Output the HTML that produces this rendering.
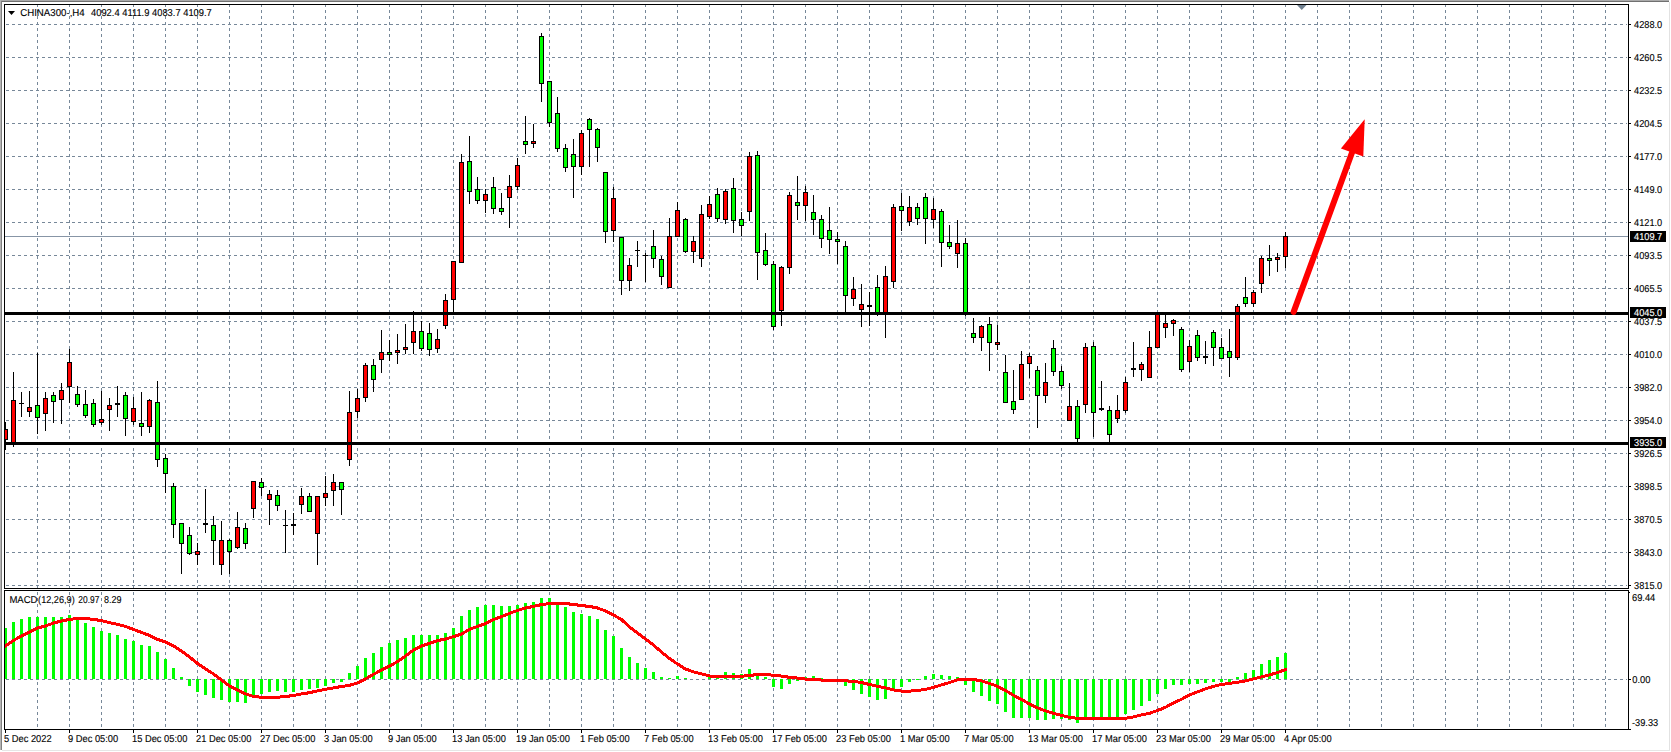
<!DOCTYPE html>
<html><head><meta charset="utf-8"><title>CHINA300 H4</title>
<style>html,body{margin:0;padding:0;background:#fff;overflow:hidden}svg{display:block}</style></head>
<body>
<svg width="1671" height="752" viewBox="0 0 1671 752" shape-rendering="crispEdges" text-rendering="geometricPrecision" font-family="'Liberation Sans', sans-serif" font-size="10px" fill="#000">
<rect x="0" y="0" width="1671" height="752" fill="#fff"/>
<rect x="0" y="0" width="1669" height="1" fill="#aaaaaa"/>
<rect x="0" y="1" width="1669" height="1" fill="#707070"/>
<rect x="0" y="0" width="1" height="750" fill="#b4b4b4"/>
<rect x="1" y="1" width="1" height="749" fill="#808080"/>
<rect x="1669" y="2" width="1" height="749" fill="#e2e2e2"/>
<rect x="2" y="750" width="1668" height="1" fill="#e6e6e6"/>
<g stroke="#778899" stroke-width="1" stroke-dasharray="3 3" fill="none">
<line x1="37.5" y1="4" x2="37.5" y2="588"/>
<line x1="37.5" y1="586" x2="37.5" y2="729"/>
<line x1="69.5" y1="4" x2="69.5" y2="588"/>
<line x1="69.5" y1="586" x2="69.5" y2="729"/>
<line x1="101.5" y1="4" x2="101.5" y2="588"/>
<line x1="101.5" y1="586" x2="101.5" y2="729"/>
<line x1="133.5" y1="4" x2="133.5" y2="588"/>
<line x1="133.5" y1="586" x2="133.5" y2="729"/>
<line x1="165.5" y1="4" x2="165.5" y2="588"/>
<line x1="165.5" y1="586" x2="165.5" y2="729"/>
<line x1="197.5" y1="4" x2="197.5" y2="588"/>
<line x1="197.5" y1="586" x2="197.5" y2="729"/>
<line x1="229.5" y1="4" x2="229.5" y2="588"/>
<line x1="229.5" y1="586" x2="229.5" y2="729"/>
<line x1="261.5" y1="4" x2="261.5" y2="588"/>
<line x1="261.5" y1="586" x2="261.5" y2="729"/>
<line x1="293.5" y1="4" x2="293.5" y2="588"/>
<line x1="293.5" y1="586" x2="293.5" y2="729"/>
<line x1="325.5" y1="4" x2="325.5" y2="588"/>
<line x1="325.5" y1="586" x2="325.5" y2="729"/>
<line x1="357.5" y1="4" x2="357.5" y2="588"/>
<line x1="357.5" y1="586" x2="357.5" y2="729"/>
<line x1="389.5" y1="4" x2="389.5" y2="588"/>
<line x1="389.5" y1="586" x2="389.5" y2="729"/>
<line x1="421.5" y1="4" x2="421.5" y2="588"/>
<line x1="421.5" y1="586" x2="421.5" y2="729"/>
<line x1="453.5" y1="4" x2="453.5" y2="588"/>
<line x1="453.5" y1="586" x2="453.5" y2="729"/>
<line x1="485.5" y1="4" x2="485.5" y2="588"/>
<line x1="485.5" y1="586" x2="485.5" y2="729"/>
<line x1="517.5" y1="4" x2="517.5" y2="588"/>
<line x1="517.5" y1="586" x2="517.5" y2="729"/>
<line x1="549.5" y1="4" x2="549.5" y2="588"/>
<line x1="549.5" y1="586" x2="549.5" y2="729"/>
<line x1="581.5" y1="4" x2="581.5" y2="588"/>
<line x1="581.5" y1="586" x2="581.5" y2="729"/>
<line x1="613.5" y1="4" x2="613.5" y2="588"/>
<line x1="613.5" y1="586" x2="613.5" y2="729"/>
<line x1="645.5" y1="4" x2="645.5" y2="588"/>
<line x1="645.5" y1="586" x2="645.5" y2="729"/>
<line x1="677.5" y1="4" x2="677.5" y2="588"/>
<line x1="677.5" y1="586" x2="677.5" y2="729"/>
<line x1="709.5" y1="4" x2="709.5" y2="588"/>
<line x1="709.5" y1="586" x2="709.5" y2="729"/>
<line x1="741.5" y1="4" x2="741.5" y2="588"/>
<line x1="741.5" y1="586" x2="741.5" y2="729"/>
<line x1="773.5" y1="4" x2="773.5" y2="588"/>
<line x1="773.5" y1="586" x2="773.5" y2="729"/>
<line x1="805.5" y1="4" x2="805.5" y2="588"/>
<line x1="805.5" y1="586" x2="805.5" y2="729"/>
<line x1="837.5" y1="4" x2="837.5" y2="588"/>
<line x1="837.5" y1="586" x2="837.5" y2="729"/>
<line x1="869.5" y1="4" x2="869.5" y2="588"/>
<line x1="869.5" y1="586" x2="869.5" y2="729"/>
<line x1="901.5" y1="4" x2="901.5" y2="588"/>
<line x1="901.5" y1="586" x2="901.5" y2="729"/>
<line x1="933.5" y1="4" x2="933.5" y2="588"/>
<line x1="933.5" y1="586" x2="933.5" y2="729"/>
<line x1="965.5" y1="4" x2="965.5" y2="588"/>
<line x1="965.5" y1="586" x2="965.5" y2="729"/>
<line x1="997.5" y1="4" x2="997.5" y2="588"/>
<line x1="997.5" y1="586" x2="997.5" y2="729"/>
<line x1="1029.5" y1="4" x2="1029.5" y2="588"/>
<line x1="1029.5" y1="586" x2="1029.5" y2="729"/>
<line x1="1061.5" y1="4" x2="1061.5" y2="588"/>
<line x1="1061.5" y1="586" x2="1061.5" y2="729"/>
<line x1="1093.5" y1="4" x2="1093.5" y2="588"/>
<line x1="1093.5" y1="586" x2="1093.5" y2="729"/>
<line x1="1125.5" y1="4" x2="1125.5" y2="588"/>
<line x1="1125.5" y1="586" x2="1125.5" y2="729"/>
<line x1="1157.5" y1="4" x2="1157.5" y2="588"/>
<line x1="1157.5" y1="586" x2="1157.5" y2="729"/>
<line x1="1189.5" y1="4" x2="1189.5" y2="588"/>
<line x1="1189.5" y1="586" x2="1189.5" y2="729"/>
<line x1="1221.5" y1="4" x2="1221.5" y2="588"/>
<line x1="1221.5" y1="586" x2="1221.5" y2="729"/>
<line x1="1253.5" y1="4" x2="1253.5" y2="588"/>
<line x1="1253.5" y1="586" x2="1253.5" y2="729"/>
<line x1="1285.5" y1="4" x2="1285.5" y2="588"/>
<line x1="1285.5" y1="586" x2="1285.5" y2="729"/>
<line x1="1317.5" y1="4" x2="1317.5" y2="588"/>
<line x1="1317.5" y1="586" x2="1317.5" y2="729"/>
<line x1="1349.5" y1="4" x2="1349.5" y2="588"/>
<line x1="1349.5" y1="586" x2="1349.5" y2="729"/>
<line x1="1381.5" y1="4" x2="1381.5" y2="588"/>
<line x1="1381.5" y1="586" x2="1381.5" y2="729"/>
<line x1="1413.5" y1="4" x2="1413.5" y2="588"/>
<line x1="1413.5" y1="586" x2="1413.5" y2="729"/>
<line x1="1445.5" y1="4" x2="1445.5" y2="588"/>
<line x1="1445.5" y1="586" x2="1445.5" y2="729"/>
<line x1="1477.5" y1="4" x2="1477.5" y2="588"/>
<line x1="1477.5" y1="586" x2="1477.5" y2="729"/>
<line x1="1509.5" y1="4" x2="1509.5" y2="588"/>
<line x1="1509.5" y1="586" x2="1509.5" y2="729"/>
<line x1="1541.5" y1="4" x2="1541.5" y2="588"/>
<line x1="1541.5" y1="586" x2="1541.5" y2="729"/>
<line x1="1573.5" y1="4" x2="1573.5" y2="588"/>
<line x1="1573.5" y1="586" x2="1573.5" y2="729"/>
<line x1="1605.5" y1="4" x2="1605.5" y2="588"/>
<line x1="1605.5" y1="586" x2="1605.5" y2="729"/>
<line x1="6" y1="24.5" x2="1627" y2="24.5"/>
<line x1="6" y1="57.5" x2="1627" y2="57.5"/>
<line x1="6" y1="90.5" x2="1627" y2="90.5"/>
<line x1="6" y1="123.5" x2="1627" y2="123.5"/>
<line x1="6" y1="156.5" x2="1627" y2="156.5"/>
<line x1="6" y1="189.5" x2="1627" y2="189.5"/>
<line x1="6" y1="222.5" x2="1627" y2="222.5"/>
<line x1="6" y1="255.5" x2="1627" y2="255.5"/>
<line x1="6" y1="288.5" x2="1627" y2="288.5"/>
<line x1="6" y1="321.5" x2="1627" y2="321.5"/>
<line x1="6" y1="354.5" x2="1627" y2="354.5"/>
<line x1="6" y1="387.5" x2="1627" y2="387.5"/>
<line x1="6" y1="420.5" x2="1627" y2="420.5"/>
<line x1="6" y1="453.5" x2="1627" y2="453.5"/>
<line x1="6" y1="486.5" x2="1627" y2="486.5"/>
<line x1="6" y1="519.5" x2="1627" y2="519.5"/>
<line x1="6" y1="552.5" x2="1627" y2="552.5"/>
<line x1="6" y1="585.5" x2="1627" y2="585.5"/>
<line x1="6" y1="679.5" x2="1627" y2="679.5"/>
</g>
<rect x="5" y="236" width="1623" height="1" fill="#8795a6"/>
<clipPath id="cc"><rect x="5" y="5" width="1623" height="583"/></clipPath><g clip-path="url(#cc)">
<rect x="5" y="422" width="1" height="28" fill="#000"/>
<rect x="3" y="429" width="5" height="11" fill="#000"/>
<rect x="4" y="430" width="3" height="9" fill="#ff0000"/>
<rect x="13" y="372" width="1" height="75" fill="#000"/>
<rect x="11" y="400" width="5" height="45" fill="#000"/>
<rect x="12" y="401" width="3" height="43" fill="#ff0000"/>
<rect x="21" y="392" width="1" height="25" fill="#000"/>
<rect x="19" y="403" width="5" height="1" fill="#000"/>
<rect x="29" y="391" width="1" height="26" fill="#000"/>
<rect x="27" y="407" width="5" height="5" fill="#000"/>
<rect x="28" y="408" width="3" height="3" fill="#ff0000"/>
<rect x="37" y="353" width="1" height="81" fill="#000"/>
<rect x="35" y="405" width="5" height="13" fill="#000"/>
<rect x="36" y="406" width="3" height="11" fill="#00ff00"/>
<rect x="45" y="392" width="1" height="39" fill="#000"/>
<rect x="43" y="398" width="5" height="16" fill="#000"/>
<rect x="44" y="399" width="3" height="14" fill="#ff0000"/>
<rect x="53" y="392" width="1" height="31" fill="#000"/>
<rect x="51" y="395" width="5" height="7" fill="#000"/>
<rect x="52" y="396" width="3" height="5" fill="#00ff00"/>
<rect x="61" y="383" width="1" height="41" fill="#000"/>
<rect x="59" y="390" width="5" height="10" fill="#000"/>
<rect x="60" y="391" width="3" height="8" fill="#ff0000"/>
<rect x="69" y="349" width="1" height="54" fill="#000"/>
<rect x="67" y="362" width="5" height="25" fill="#000"/>
<rect x="68" y="363" width="3" height="23" fill="#ff0000"/>
<rect x="77" y="386" width="1" height="21" fill="#000"/>
<rect x="75" y="394" width="5" height="11" fill="#000"/>
<rect x="76" y="395" width="3" height="9" fill="#00ff00"/>
<rect x="85" y="390" width="1" height="28" fill="#000"/>
<rect x="83" y="404" width="5" height="12" fill="#000"/>
<rect x="84" y="405" width="3" height="10" fill="#00ff00"/>
<rect x="93" y="399" width="1" height="28" fill="#000"/>
<rect x="91" y="403" width="5" height="22" fill="#000"/>
<rect x="92" y="404" width="3" height="20" fill="#00ff00"/>
<rect x="101" y="391" width="1" height="34" fill="#000"/>
<rect x="99" y="419" width="5" height="4" fill="#000"/>
<rect x="100" y="420" width="3" height="2" fill="#ff0000"/>
<rect x="109" y="398" width="1" height="33" fill="#000"/>
<rect x="107" y="405" width="5" height="5" fill="#000"/>
<rect x="108" y="406" width="3" height="3" fill="#ff0000"/>
<rect x="117" y="386" width="1" height="31" fill="#000"/>
<rect x="115" y="403" width="5" height="2" fill="#000"/>
<rect x="125" y="392" width="1" height="44" fill="#000"/>
<rect x="123" y="395" width="5" height="24" fill="#000"/>
<rect x="124" y="396" width="3" height="22" fill="#00ff00"/>
<rect x="133" y="397" width="1" height="28" fill="#000"/>
<rect x="131" y="408" width="5" height="14" fill="#000"/>
<rect x="132" y="409" width="3" height="12" fill="#ff0000"/>
<rect x="141" y="392" width="1" height="44" fill="#000"/>
<rect x="139" y="423" width="5" height="4" fill="#000"/>
<rect x="140" y="424" width="3" height="2" fill="#00ff00"/>
<rect x="149" y="399" width="1" height="34" fill="#000"/>
<rect x="147" y="400" width="5" height="27" fill="#000"/>
<rect x="148" y="401" width="3" height="25" fill="#ff0000"/>
<rect x="157" y="381" width="1" height="86" fill="#000"/>
<rect x="155" y="402" width="5" height="58" fill="#000"/>
<rect x="156" y="403" width="3" height="56" fill="#00ff00"/>
<rect x="165" y="454" width="1" height="39" fill="#000"/>
<rect x="163" y="458" width="5" height="16" fill="#000"/>
<rect x="164" y="459" width="3" height="14" fill="#00ff00"/>
<rect x="173" y="483" width="1" height="55" fill="#000"/>
<rect x="171" y="486" width="5" height="39" fill="#000"/>
<rect x="172" y="487" width="3" height="37" fill="#00ff00"/>
<rect x="181" y="523" width="1" height="51" fill="#000"/>
<rect x="179" y="523" width="5" height="21" fill="#000"/>
<rect x="180" y="524" width="3" height="19" fill="#00ff00"/>
<rect x="189" y="527" width="1" height="28" fill="#000"/>
<rect x="187" y="535" width="5" height="19" fill="#000"/>
<rect x="188" y="536" width="3" height="17" fill="#00ff00"/>
<rect x="197" y="543" width="1" height="22" fill="#000"/>
<rect x="195" y="551" width="5" height="4" fill="#000"/>
<rect x="196" y="552" width="3" height="2" fill="#ff0000"/>
<rect x="205" y="489" width="1" height="44" fill="#000"/>
<rect x="203" y="523" width="5" height="2" fill="#000"/>
<rect x="213" y="516" width="1" height="49" fill="#000"/>
<rect x="211" y="525" width="5" height="16" fill="#000"/>
<rect x="212" y="526" width="3" height="14" fill="#00ff00"/>
<rect x="221" y="521" width="1" height="54" fill="#000"/>
<rect x="219" y="540" width="5" height="25" fill="#000"/>
<rect x="220" y="541" width="3" height="23" fill="#ff0000"/>
<rect x="229" y="539" width="1" height="35" fill="#000"/>
<rect x="227" y="540" width="5" height="12" fill="#000"/>
<rect x="228" y="541" width="3" height="10" fill="#00ff00"/>
<rect x="237" y="512" width="1" height="37" fill="#000"/>
<rect x="235" y="527" width="5" height="21" fill="#000"/>
<rect x="236" y="528" width="3" height="19" fill="#ff0000"/>
<rect x="245" y="523" width="1" height="26" fill="#000"/>
<rect x="243" y="528" width="5" height="16" fill="#000"/>
<rect x="244" y="529" width="3" height="14" fill="#00ff00"/>
<rect x="253" y="481" width="1" height="37" fill="#000"/>
<rect x="251" y="481" width="5" height="28" fill="#000"/>
<rect x="252" y="482" width="3" height="26" fill="#ff0000"/>
<rect x="261" y="478" width="1" height="18" fill="#000"/>
<rect x="259" y="482" width="5" height="6" fill="#000"/>
<rect x="260" y="483" width="3" height="4" fill="#00ff00"/>
<rect x="269" y="490" width="1" height="35" fill="#000"/>
<rect x="267" y="494" width="5" height="6" fill="#000"/>
<rect x="268" y="495" width="3" height="4" fill="#ff0000"/>
<rect x="277" y="490" width="1" height="21" fill="#000"/>
<rect x="275" y="495" width="5" height="11" fill="#000"/>
<rect x="276" y="496" width="3" height="9" fill="#00ff00"/>
<rect x="285" y="510" width="1" height="43" fill="#000"/>
<rect x="283" y="525" width="5" height="1" fill="#000"/>
<rect x="293" y="513" width="1" height="22" fill="#000"/>
<rect x="291" y="524" width="5" height="2" fill="#000"/>
<rect x="301" y="488" width="1" height="26" fill="#000"/>
<rect x="299" y="496" width="5" height="9" fill="#000"/>
<rect x="300" y="497" width="3" height="7" fill="#ff0000"/>
<rect x="309" y="493" width="1" height="19" fill="#000"/>
<rect x="307" y="496" width="5" height="16" fill="#000"/>
<rect x="308" y="497" width="3" height="14" fill="#00ff00"/>
<rect x="317" y="496" width="1" height="69" fill="#000"/>
<rect x="315" y="496" width="5" height="38" fill="#000"/>
<rect x="316" y="497" width="3" height="36" fill="#ff0000"/>
<rect x="325" y="476" width="1" height="30" fill="#000"/>
<rect x="323" y="493" width="5" height="5" fill="#000"/>
<rect x="324" y="494" width="3" height="3" fill="#ff0000"/>
<rect x="333" y="474" width="1" height="32" fill="#000"/>
<rect x="331" y="482" width="5" height="9" fill="#000"/>
<rect x="332" y="483" width="3" height="7" fill="#ff0000"/>
<rect x="341" y="482" width="1" height="33" fill="#000"/>
<rect x="339" y="482" width="5" height="8" fill="#000"/>
<rect x="340" y="483" width="3" height="6" fill="#00ff00"/>
<rect x="349" y="391" width="1" height="75" fill="#000"/>
<rect x="347" y="412" width="5" height="48" fill="#000"/>
<rect x="348" y="413" width="3" height="46" fill="#ff0000"/>
<rect x="357" y="389" width="1" height="29" fill="#000"/>
<rect x="355" y="398" width="5" height="14" fill="#000"/>
<rect x="356" y="399" width="3" height="12" fill="#ff0000"/>
<rect x="365" y="363" width="1" height="39" fill="#000"/>
<rect x="363" y="365" width="5" height="33" fill="#000"/>
<rect x="364" y="366" width="3" height="31" fill="#ff0000"/>
<rect x="373" y="359" width="1" height="33" fill="#000"/>
<rect x="371" y="365" width="5" height="15" fill="#000"/>
<rect x="372" y="366" width="3" height="13" fill="#00ff00"/>
<rect x="381" y="330" width="1" height="43" fill="#000"/>
<rect x="379" y="352" width="5" height="8" fill="#000"/>
<rect x="380" y="353" width="3" height="6" fill="#ff0000"/>
<rect x="389" y="340" width="1" height="21" fill="#000"/>
<rect x="387" y="352" width="5" height="3" fill="#000"/>
<rect x="388" y="353" width="3" height="1" fill="#00ff00"/>
<rect x="397" y="334" width="1" height="30" fill="#000"/>
<rect x="395" y="350" width="5" height="3" fill="#000"/>
<rect x="396" y="351" width="3" height="1" fill="#ff0000"/>
<rect x="405" y="324" width="1" height="30" fill="#000"/>
<rect x="403" y="347" width="5" height="3" fill="#000"/>
<rect x="404" y="348" width="3" height="1" fill="#ff0000"/>
<rect x="413" y="311" width="1" height="43" fill="#000"/>
<rect x="411" y="331" width="5" height="12" fill="#000"/>
<rect x="412" y="332" width="3" height="10" fill="#ff0000"/>
<rect x="421" y="321" width="1" height="30" fill="#000"/>
<rect x="419" y="331" width="5" height="18" fill="#000"/>
<rect x="420" y="332" width="3" height="16" fill="#00ff00"/>
<rect x="429" y="323" width="1" height="33" fill="#000"/>
<rect x="427" y="333" width="5" height="17" fill="#000"/>
<rect x="428" y="334" width="3" height="15" fill="#00ff00"/>
<rect x="437" y="329" width="1" height="24" fill="#000"/>
<rect x="435" y="339" width="5" height="10" fill="#000"/>
<rect x="436" y="340" width="3" height="8" fill="#ff0000"/>
<rect x="445" y="294" width="1" height="35" fill="#000"/>
<rect x="443" y="300" width="5" height="26" fill="#000"/>
<rect x="444" y="301" width="3" height="24" fill="#ff0000"/>
<rect x="453" y="261" width="1" height="52" fill="#000"/>
<rect x="451" y="261" width="5" height="39" fill="#000"/>
<rect x="452" y="262" width="3" height="37" fill="#ff0000"/>
<rect x="461" y="154" width="1" height="108" fill="#000"/>
<rect x="459" y="162" width="5" height="101" fill="#000"/>
<rect x="460" y="163" width="3" height="99" fill="#ff0000"/>
<rect x="469" y="136" width="1" height="68" fill="#000"/>
<rect x="467" y="161" width="5" height="31" fill="#000"/>
<rect x="468" y="162" width="3" height="29" fill="#00ff00"/>
<rect x="477" y="177" width="1" height="27" fill="#000"/>
<rect x="475" y="189" width="5" height="12" fill="#000"/>
<rect x="476" y="190" width="3" height="10" fill="#00ff00"/>
<rect x="485" y="189" width="1" height="24" fill="#000"/>
<rect x="483" y="194" width="5" height="7" fill="#000"/>
<rect x="484" y="195" width="3" height="5" fill="#ff0000"/>
<rect x="493" y="177" width="1" height="37" fill="#000"/>
<rect x="491" y="187" width="5" height="22" fill="#000"/>
<rect x="492" y="188" width="3" height="20" fill="#00ff00"/>
<rect x="501" y="193" width="1" height="22" fill="#000"/>
<rect x="499" y="208" width="5" height="4" fill="#000"/>
<rect x="500" y="209" width="3" height="2" fill="#00ff00"/>
<rect x="509" y="175" width="1" height="53" fill="#000"/>
<rect x="507" y="186" width="5" height="12" fill="#000"/>
<rect x="508" y="187" width="3" height="10" fill="#ff0000"/>
<rect x="517" y="158" width="1" height="32" fill="#000"/>
<rect x="515" y="165" width="5" height="22" fill="#000"/>
<rect x="516" y="166" width="3" height="20" fill="#ff0000"/>
<rect x="525" y="116" width="1" height="38" fill="#000"/>
<rect x="523" y="141" width="5" height="4" fill="#000"/>
<rect x="524" y="142" width="3" height="2" fill="#00ff00"/>
<rect x="533" y="124" width="1" height="24" fill="#000"/>
<rect x="531" y="141" width="5" height="3" fill="#000"/>
<rect x="532" y="142" width="3" height="1" fill="#ff0000"/>
<rect x="541" y="33" width="1" height="69" fill="#000"/>
<rect x="539" y="36" width="5" height="48" fill="#000"/>
<rect x="540" y="37" width="3" height="46" fill="#00ff00"/>
<rect x="549" y="81" width="1" height="46" fill="#000"/>
<rect x="547" y="81" width="5" height="42" fill="#000"/>
<rect x="548" y="82" width="3" height="40" fill="#00ff00"/>
<rect x="557" y="97" width="1" height="55" fill="#000"/>
<rect x="555" y="113" width="5" height="36" fill="#000"/>
<rect x="556" y="114" width="3" height="34" fill="#00ff00"/>
<rect x="565" y="144" width="1" height="28" fill="#000"/>
<rect x="563" y="148" width="5" height="20" fill="#000"/>
<rect x="564" y="149" width="3" height="18" fill="#00ff00"/>
<rect x="573" y="139" width="1" height="59" fill="#000"/>
<rect x="571" y="154" width="5" height="13" fill="#000"/>
<rect x="572" y="155" width="3" height="11" fill="#00ff00"/>
<rect x="581" y="130" width="1" height="45" fill="#000"/>
<rect x="579" y="133" width="5" height="34" fill="#000"/>
<rect x="580" y="134" width="3" height="32" fill="#ff0000"/>
<rect x="589" y="118" width="1" height="49" fill="#000"/>
<rect x="587" y="119" width="5" height="11" fill="#000"/>
<rect x="588" y="120" width="3" height="9" fill="#00ff00"/>
<rect x="597" y="128" width="1" height="34" fill="#000"/>
<rect x="595" y="129" width="5" height="19" fill="#000"/>
<rect x="596" y="130" width="3" height="17" fill="#00ff00"/>
<rect x="605" y="172" width="1" height="71" fill="#000"/>
<rect x="603" y="172" width="5" height="60" fill="#000"/>
<rect x="604" y="173" width="3" height="58" fill="#00ff00"/>
<rect x="613" y="187" width="1" height="55" fill="#000"/>
<rect x="611" y="198" width="5" height="33" fill="#000"/>
<rect x="612" y="199" width="3" height="31" fill="#ff0000"/>
<rect x="621" y="237" width="1" height="58" fill="#000"/>
<rect x="619" y="237" width="5" height="44" fill="#000"/>
<rect x="620" y="238" width="3" height="42" fill="#00ff00"/>
<rect x="629" y="258" width="1" height="33" fill="#000"/>
<rect x="627" y="265" width="5" height="16" fill="#000"/>
<rect x="628" y="266" width="3" height="14" fill="#ff0000"/>
<rect x="637" y="241" width="1" height="26" fill="#000"/>
<rect x="635" y="250" width="5" height="1" fill="#000"/>
<rect x="645" y="253" width="1" height="29" fill="#000"/>
<rect x="643" y="255" width="5" height="1" fill="#000"/>
<rect x="653" y="230" width="1" height="38" fill="#000"/>
<rect x="651" y="246" width="5" height="13" fill="#000"/>
<rect x="652" y="247" width="3" height="11" fill="#00ff00"/>
<rect x="661" y="256" width="1" height="29" fill="#000"/>
<rect x="659" y="259" width="5" height="18" fill="#000"/>
<rect x="660" y="260" width="3" height="16" fill="#00ff00"/>
<rect x="669" y="218" width="1" height="70" fill="#000"/>
<rect x="667" y="236" width="5" height="52" fill="#000"/>
<rect x="668" y="237" width="3" height="50" fill="#ff0000"/>
<rect x="677" y="202" width="1" height="34" fill="#000"/>
<rect x="675" y="210" width="5" height="27" fill="#000"/>
<rect x="676" y="211" width="3" height="25" fill="#ff0000"/>
<rect x="685" y="218" width="1" height="35" fill="#000"/>
<rect x="683" y="219" width="5" height="33" fill="#000"/>
<rect x="684" y="220" width="3" height="31" fill="#00ff00"/>
<rect x="693" y="236" width="1" height="27" fill="#000"/>
<rect x="691" y="241" width="5" height="11" fill="#000"/>
<rect x="692" y="242" width="3" height="9" fill="#ff0000"/>
<rect x="701" y="205" width="1" height="62" fill="#000"/>
<rect x="699" y="214" width="5" height="45" fill="#000"/>
<rect x="700" y="215" width="3" height="43" fill="#ff0000"/>
<rect x="709" y="196" width="1" height="23" fill="#000"/>
<rect x="707" y="204" width="5" height="13" fill="#000"/>
<rect x="708" y="205" width="3" height="11" fill="#ff0000"/>
<rect x="717" y="188" width="1" height="34" fill="#000"/>
<rect x="715" y="194" width="5" height="25" fill="#000"/>
<rect x="716" y="195" width="3" height="23" fill="#00ff00"/>
<rect x="725" y="189" width="1" height="35" fill="#000"/>
<rect x="723" y="191" width="5" height="29" fill="#000"/>
<rect x="724" y="192" width="3" height="27" fill="#ff0000"/>
<rect x="733" y="178" width="1" height="55" fill="#000"/>
<rect x="731" y="188" width="5" height="33" fill="#000"/>
<rect x="732" y="189" width="3" height="31" fill="#00ff00"/>
<rect x="741" y="212" width="1" height="24" fill="#000"/>
<rect x="739" y="219" width="5" height="7" fill="#000"/>
<rect x="740" y="220" width="3" height="5" fill="#00ff00"/>
<rect x="749" y="152" width="1" height="69" fill="#000"/>
<rect x="747" y="156" width="5" height="56" fill="#000"/>
<rect x="748" y="157" width="3" height="54" fill="#ff0000"/>
<rect x="757" y="151" width="1" height="129" fill="#000"/>
<rect x="755" y="155" width="5" height="98" fill="#000"/>
<rect x="756" y="156" width="3" height="96" fill="#00ff00"/>
<rect x="765" y="233" width="1" height="33" fill="#000"/>
<rect x="763" y="250" width="5" height="15" fill="#000"/>
<rect x="764" y="251" width="3" height="13" fill="#00ff00"/>
<rect x="773" y="261" width="1" height="69" fill="#000"/>
<rect x="771" y="264" width="5" height="63" fill="#000"/>
<rect x="772" y="265" width="3" height="61" fill="#00ff00"/>
<rect x="781" y="266" width="1" height="60" fill="#000"/>
<rect x="779" y="267" width="5" height="44" fill="#000"/>
<rect x="780" y="268" width="3" height="42" fill="#ff0000"/>
<rect x="789" y="192" width="1" height="82" fill="#000"/>
<rect x="787" y="195" width="5" height="73" fill="#000"/>
<rect x="788" y="196" width="3" height="71" fill="#ff0000"/>
<rect x="797" y="176" width="1" height="44" fill="#000"/>
<rect x="795" y="202" width="5" height="4" fill="#000"/>
<rect x="796" y="203" width="3" height="2" fill="#00ff00"/>
<rect x="805" y="186" width="1" height="35" fill="#000"/>
<rect x="803" y="192" width="5" height="14" fill="#000"/>
<rect x="804" y="193" width="3" height="12" fill="#ff0000"/>
<rect x="813" y="195" width="1" height="40" fill="#000"/>
<rect x="811" y="212" width="5" height="8" fill="#000"/>
<rect x="812" y="213" width="3" height="6" fill="#00ff00"/>
<rect x="821" y="215" width="1" height="33" fill="#000"/>
<rect x="819" y="219" width="5" height="20" fill="#000"/>
<rect x="820" y="220" width="3" height="18" fill="#00ff00"/>
<rect x="829" y="207" width="1" height="47" fill="#000"/>
<rect x="827" y="230" width="5" height="10" fill="#000"/>
<rect x="828" y="231" width="3" height="8" fill="#00ff00"/>
<rect x="837" y="232" width="1" height="32" fill="#000"/>
<rect x="835" y="239" width="5" height="3" fill="#000"/>
<rect x="836" y="240" width="3" height="1" fill="#00ff00"/>
<rect x="845" y="241" width="1" height="72" fill="#000"/>
<rect x="843" y="246" width="5" height="50" fill="#000"/>
<rect x="844" y="247" width="3" height="48" fill="#00ff00"/>
<rect x="853" y="277" width="1" height="29" fill="#000"/>
<rect x="851" y="289" width="5" height="10" fill="#000"/>
<rect x="852" y="290" width="3" height="8" fill="#ff0000"/>
<rect x="861" y="284" width="1" height="43" fill="#000"/>
<rect x="859" y="304" width="5" height="6" fill="#000"/>
<rect x="860" y="305" width="3" height="4" fill="#ff0000"/>
<rect x="869" y="292" width="1" height="34" fill="#000"/>
<rect x="867" y="305" width="5" height="2" fill="#000"/>
<rect x="877" y="275" width="1" height="41" fill="#000"/>
<rect x="875" y="287" width="5" height="28" fill="#000"/>
<rect x="876" y="288" width="3" height="26" fill="#00ff00"/>
<rect x="885" y="266" width="1" height="72" fill="#000"/>
<rect x="883" y="276" width="5" height="39" fill="#000"/>
<rect x="884" y="277" width="3" height="37" fill="#ff0000"/>
<rect x="893" y="204" width="1" height="84" fill="#000"/>
<rect x="891" y="207" width="5" height="75" fill="#000"/>
<rect x="892" y="208" width="3" height="73" fill="#ff0000"/>
<rect x="901" y="193" width="1" height="38" fill="#000"/>
<rect x="899" y="206" width="5" height="5" fill="#000"/>
<rect x="900" y="207" width="3" height="3" fill="#00ff00"/>
<rect x="909" y="196" width="1" height="30" fill="#000"/>
<rect x="907" y="207" width="5" height="15" fill="#000"/>
<rect x="908" y="208" width="3" height="13" fill="#ff0000"/>
<rect x="917" y="203" width="1" height="22" fill="#000"/>
<rect x="915" y="207" width="5" height="12" fill="#000"/>
<rect x="916" y="208" width="3" height="10" fill="#00ff00"/>
<rect x="925" y="193" width="1" height="51" fill="#000"/>
<rect x="923" y="197" width="5" height="22" fill="#000"/>
<rect x="924" y="198" width="3" height="20" fill="#00ff00"/>
<rect x="933" y="198" width="1" height="30" fill="#000"/>
<rect x="931" y="209" width="5" height="11" fill="#000"/>
<rect x="932" y="210" width="3" height="9" fill="#ff0000"/>
<rect x="941" y="209" width="1" height="58" fill="#000"/>
<rect x="939" y="211" width="5" height="32" fill="#000"/>
<rect x="940" y="212" width="3" height="30" fill="#00ff00"/>
<rect x="949" y="225" width="1" height="24" fill="#000"/>
<rect x="947" y="242" width="5" height="5" fill="#000"/>
<rect x="948" y="243" width="3" height="3" fill="#00ff00"/>
<rect x="957" y="220" width="1" height="48" fill="#000"/>
<rect x="955" y="243" width="5" height="11" fill="#000"/>
<rect x="956" y="244" width="3" height="9" fill="#ff0000"/>
<rect x="965" y="238" width="1" height="78" fill="#000"/>
<rect x="963" y="243" width="5" height="70" fill="#000"/>
<rect x="964" y="244" width="3" height="68" fill="#00ff00"/>
<rect x="973" y="318" width="1" height="25" fill="#000"/>
<rect x="971" y="333" width="5" height="5" fill="#000"/>
<rect x="972" y="334" width="3" height="3" fill="#00ff00"/>
<rect x="981" y="325" width="1" height="26" fill="#000"/>
<rect x="979" y="326" width="5" height="12" fill="#000"/>
<rect x="980" y="327" width="3" height="10" fill="#ff0000"/>
<rect x="989" y="317" width="1" height="54" fill="#000"/>
<rect x="987" y="324" width="5" height="19" fill="#000"/>
<rect x="988" y="325" width="3" height="17" fill="#00ff00"/>
<rect x="997" y="325" width="1" height="25" fill="#000"/>
<rect x="995" y="342" width="5" height="3" fill="#000"/>
<rect x="996" y="343" width="3" height="1" fill="#ff0000"/>
<rect x="1005" y="355" width="1" height="47" fill="#000"/>
<rect x="1003" y="372" width="5" height="31" fill="#000"/>
<rect x="1004" y="373" width="3" height="29" fill="#00ff00"/>
<rect x="1013" y="370" width="1" height="44" fill="#000"/>
<rect x="1011" y="401" width="5" height="9" fill="#000"/>
<rect x="1012" y="402" width="3" height="7" fill="#00ff00"/>
<rect x="1021" y="351" width="1" height="49" fill="#000"/>
<rect x="1019" y="364" width="5" height="36" fill="#000"/>
<rect x="1020" y="365" width="3" height="34" fill="#ff0000"/>
<rect x="1029" y="353" width="1" height="25" fill="#000"/>
<rect x="1027" y="356" width="5" height="8" fill="#000"/>
<rect x="1028" y="357" width="3" height="6" fill="#ff0000"/>
<rect x="1037" y="366" width="1" height="62" fill="#000"/>
<rect x="1035" y="370" width="5" height="26" fill="#000"/>
<rect x="1036" y="371" width="3" height="24" fill="#00ff00"/>
<rect x="1045" y="363" width="1" height="40" fill="#000"/>
<rect x="1043" y="382" width="5" height="14" fill="#000"/>
<rect x="1044" y="383" width="3" height="12" fill="#ff0000"/>
<rect x="1053" y="340" width="1" height="36" fill="#000"/>
<rect x="1051" y="348" width="5" height="24" fill="#000"/>
<rect x="1052" y="349" width="3" height="22" fill="#00ff00"/>
<rect x="1061" y="366" width="1" height="23" fill="#000"/>
<rect x="1059" y="371" width="5" height="15" fill="#000"/>
<rect x="1060" y="372" width="3" height="13" fill="#00ff00"/>
<rect x="1069" y="383" width="1" height="37" fill="#000"/>
<rect x="1067" y="406" width="5" height="15" fill="#000"/>
<rect x="1068" y="407" width="3" height="13" fill="#ff0000"/>
<rect x="1077" y="400" width="1" height="42" fill="#000"/>
<rect x="1075" y="406" width="5" height="33" fill="#000"/>
<rect x="1076" y="407" width="3" height="31" fill="#00ff00"/>
<rect x="1085" y="343" width="1" height="70" fill="#000"/>
<rect x="1083" y="347" width="5" height="58" fill="#000"/>
<rect x="1084" y="348" width="3" height="56" fill="#ff0000"/>
<rect x="1093" y="342" width="1" height="95" fill="#000"/>
<rect x="1091" y="346" width="5" height="67" fill="#000"/>
<rect x="1092" y="347" width="3" height="65" fill="#00ff00"/>
<rect x="1101" y="381" width="1" height="30" fill="#000"/>
<rect x="1099" y="408" width="5" height="2" fill="#000"/>
<rect x="1109" y="406" width="1" height="37" fill="#000"/>
<rect x="1107" y="410" width="5" height="25" fill="#000"/>
<rect x="1108" y="411" width="3" height="23" fill="#00ff00"/>
<rect x="1117" y="395" width="1" height="28" fill="#000"/>
<rect x="1115" y="410" width="5" height="9" fill="#000"/>
<rect x="1116" y="411" width="3" height="7" fill="#ff0000"/>
<rect x="1125" y="377" width="1" height="36" fill="#000"/>
<rect x="1123" y="382" width="5" height="29" fill="#000"/>
<rect x="1124" y="383" width="3" height="27" fill="#ff0000"/>
<rect x="1133" y="342" width="1" height="35" fill="#000"/>
<rect x="1131" y="368" width="5" height="2" fill="#000"/>
<rect x="1141" y="362" width="1" height="19" fill="#000"/>
<rect x="1139" y="364" width="5" height="6" fill="#000"/>
<rect x="1140" y="365" width="3" height="4" fill="#ff0000"/>
<rect x="1149" y="331" width="1" height="47" fill="#000"/>
<rect x="1147" y="347" width="5" height="31" fill="#000"/>
<rect x="1148" y="348" width="3" height="29" fill="#ff0000"/>
<rect x="1157" y="313" width="1" height="34" fill="#000"/>
<rect x="1155" y="313" width="5" height="35" fill="#000"/>
<rect x="1156" y="314" width="3" height="33" fill="#ff0000"/>
<rect x="1165" y="314" width="1" height="24" fill="#000"/>
<rect x="1163" y="323" width="5" height="5" fill="#000"/>
<rect x="1164" y="324" width="3" height="3" fill="#ff0000"/>
<rect x="1173" y="319" width="1" height="17" fill="#000"/>
<rect x="1171" y="320" width="5" height="4" fill="#000"/>
<rect x="1172" y="321" width="3" height="2" fill="#ff0000"/>
<rect x="1181" y="327" width="1" height="45" fill="#000"/>
<rect x="1179" y="329" width="5" height="41" fill="#000"/>
<rect x="1180" y="330" width="3" height="39" fill="#00ff00"/>
<rect x="1189" y="340" width="1" height="32" fill="#000"/>
<rect x="1187" y="346" width="5" height="16" fill="#000"/>
<rect x="1188" y="347" width="3" height="14" fill="#ff0000"/>
<rect x="1197" y="330" width="1" height="31" fill="#000"/>
<rect x="1195" y="335" width="5" height="23" fill="#000"/>
<rect x="1196" y="336" width="3" height="21" fill="#00ff00"/>
<rect x="1205" y="341" width="1" height="23" fill="#000"/>
<rect x="1203" y="356" width="5" height="2" fill="#000"/>
<rect x="1213" y="330" width="1" height="36" fill="#000"/>
<rect x="1211" y="332" width="5" height="16" fill="#000"/>
<rect x="1212" y="333" width="3" height="14" fill="#00ff00"/>
<rect x="1221" y="338" width="1" height="21" fill="#000"/>
<rect x="1219" y="347" width="5" height="12" fill="#000"/>
<rect x="1220" y="348" width="3" height="10" fill="#00ff00"/>
<rect x="1229" y="329" width="1" height="48" fill="#000"/>
<rect x="1227" y="351" width="5" height="7" fill="#000"/>
<rect x="1228" y="352" width="3" height="5" fill="#00ff00"/>
<rect x="1237" y="304" width="1" height="56" fill="#000"/>
<rect x="1235" y="306" width="5" height="52" fill="#000"/>
<rect x="1236" y="307" width="3" height="50" fill="#ff0000"/>
<rect x="1245" y="277" width="1" height="30" fill="#000"/>
<rect x="1243" y="297" width="5" height="7" fill="#000"/>
<rect x="1244" y="298" width="3" height="5" fill="#00ff00"/>
<rect x="1253" y="290" width="1" height="17" fill="#000"/>
<rect x="1251" y="292" width="5" height="12" fill="#000"/>
<rect x="1252" y="293" width="3" height="10" fill="#ff0000"/>
<rect x="1261" y="256" width="1" height="37" fill="#000"/>
<rect x="1259" y="258" width="5" height="26" fill="#000"/>
<rect x="1260" y="259" width="3" height="24" fill="#ff0000"/>
<rect x="1269" y="245" width="1" height="31" fill="#000"/>
<rect x="1267" y="258" width="5" height="3" fill="#000"/>
<rect x="1268" y="259" width="3" height="1" fill="#00ff00"/>
<rect x="1277" y="253" width="1" height="19" fill="#000"/>
<rect x="1275" y="257" width="5" height="3" fill="#000"/>
<rect x="1276" y="258" width="3" height="1" fill="#ff0000"/>
<rect x="1285" y="232" width="1" height="36" fill="#000"/>
<rect x="1283" y="236" width="5" height="21" fill="#000"/>
<rect x="1284" y="237" width="3" height="19" fill="#ff0000"/>
</g>
<rect x="5" y="312" width="1623" height="3" fill="#000"/>
<rect x="5" y="442" width="1623" height="3" fill="#000"/>
<g shape-rendering="geometricPrecision">
<line x1="1293.65" y1="311.85" x2="1352.6" y2="151" stroke="#ff0000" stroke-width="6" stroke-linecap="round"/>
<polygon points="1364.7,119.2 1340.9,148.5 1363.3,156.5" fill="#ff0000"/>
</g>
<rect x="4" y="628" width="3" height="51" fill="#00ff00"/>
<rect x="12" y="622" width="3" height="57" fill="#00ff00"/>
<rect x="20" y="619" width="3" height="60" fill="#00ff00"/>
<rect x="28" y="617" width="3" height="62" fill="#00ff00"/>
<rect x="36" y="617" width="3" height="62" fill="#00ff00"/>
<rect x="44" y="617" width="3" height="62" fill="#00ff00"/>
<rect x="52" y="617" width="3" height="62" fill="#00ff00"/>
<rect x="60" y="617" width="3" height="62" fill="#00ff00"/>
<rect x="68" y="615" width="3" height="64" fill="#00ff00"/>
<rect x="76" y="620" width="3" height="59" fill="#00ff00"/>
<rect x="84" y="623" width="3" height="56" fill="#00ff00"/>
<rect x="92" y="627" width="3" height="52" fill="#00ff00"/>
<rect x="100" y="631" width="3" height="48" fill="#00ff00"/>
<rect x="108" y="633" width="3" height="46" fill="#00ff00"/>
<rect x="116" y="635" width="3" height="44" fill="#00ff00"/>
<rect x="124" y="639" width="3" height="40" fill="#00ff00"/>
<rect x="132" y="641" width="3" height="38" fill="#00ff00"/>
<rect x="140" y="645" width="3" height="34" fill="#00ff00"/>
<rect x="148" y="646" width="3" height="33" fill="#00ff00"/>
<rect x="156" y="652" width="3" height="27" fill="#00ff00"/>
<rect x="164" y="659" width="3" height="20" fill="#00ff00"/>
<rect x="172" y="668" width="3" height="11" fill="#00ff00"/>
<rect x="180" y="677" width="3" height="2" fill="#00ff00"/>
<rect x="188" y="679" width="3" height="7" fill="#00ff00"/>
<rect x="196" y="679" width="3" height="13" fill="#00ff00"/>
<rect x="204" y="679" width="3" height="16" fill="#00ff00"/>
<rect x="212" y="679" width="3" height="19" fill="#00ff00"/>
<rect x="220" y="679" width="3" height="21" fill="#00ff00"/>
<rect x="228" y="679" width="3" height="23" fill="#00ff00"/>
<rect x="236" y="679" width="3" height="23" fill="#00ff00"/>
<rect x="244" y="679" width="3" height="24" fill="#00ff00"/>
<rect x="252" y="679" width="3" height="17" fill="#00ff00"/>
<rect x="260" y="679" width="3" height="15" fill="#00ff00"/>
<rect x="268" y="679" width="3" height="13" fill="#00ff00"/>
<rect x="276" y="679" width="3" height="12" fill="#00ff00"/>
<rect x="284" y="679" width="3" height="13" fill="#00ff00"/>
<rect x="292" y="679" width="3" height="13" fill="#00ff00"/>
<rect x="300" y="679" width="3" height="11" fill="#00ff00"/>
<rect x="308" y="679" width="3" height="10" fill="#00ff00"/>
<rect x="316" y="679" width="3" height="9" fill="#00ff00"/>
<rect x="324" y="679" width="3" height="7" fill="#00ff00"/>
<rect x="332" y="679" width="3" height="4" fill="#00ff00"/>
<rect x="340" y="679" width="3" height="3" fill="#00ff00"/>
<rect x="348" y="673" width="3" height="6" fill="#00ff00"/>
<rect x="356" y="666" width="3" height="13" fill="#00ff00"/>
<rect x="364" y="658" width="3" height="21" fill="#00ff00"/>
<rect x="372" y="653" width="3" height="26" fill="#00ff00"/>
<rect x="380" y="647" width="3" height="32" fill="#00ff00"/>
<rect x="388" y="643" width="3" height="36" fill="#00ff00"/>
<rect x="396" y="640" width="3" height="39" fill="#00ff00"/>
<rect x="404" y="638" width="3" height="41" fill="#00ff00"/>
<rect x="412" y="635" width="3" height="44" fill="#00ff00"/>
<rect x="420" y="635" width="3" height="44" fill="#00ff00"/>
<rect x="428" y="635" width="3" height="44" fill="#00ff00"/>
<rect x="436" y="635" width="3" height="44" fill="#00ff00"/>
<rect x="444" y="633" width="3" height="46" fill="#00ff00"/>
<rect x="452" y="628" width="3" height="51" fill="#00ff00"/>
<rect x="460" y="616" width="3" height="63" fill="#00ff00"/>
<rect x="468" y="610" width="3" height="69" fill="#00ff00"/>
<rect x="476" y="607" width="3" height="72" fill="#00ff00"/>
<rect x="484" y="605" width="3" height="74" fill="#00ff00"/>
<rect x="492" y="605" width="3" height="74" fill="#00ff00"/>
<rect x="500" y="606" width="3" height="73" fill="#00ff00"/>
<rect x="508" y="606" width="3" height="73" fill="#00ff00"/>
<rect x="516" y="605" width="3" height="74" fill="#00ff00"/>
<rect x="524" y="603" width="3" height="76" fill="#00ff00"/>
<rect x="532" y="602" width="3" height="77" fill="#00ff00"/>
<rect x="540" y="598" width="3" height="81" fill="#00ff00"/>
<rect x="548" y="598" width="3" height="81" fill="#00ff00"/>
<rect x="556" y="604" width="3" height="75" fill="#00ff00"/>
<rect x="564" y="607" width="3" height="72" fill="#00ff00"/>
<rect x="572" y="612" width="3" height="67" fill="#00ff00"/>
<rect x="580" y="614" width="3" height="65" fill="#00ff00"/>
<rect x="588" y="616" width="3" height="63" fill="#00ff00"/>
<rect x="596" y="619" width="3" height="60" fill="#00ff00"/>
<rect x="604" y="630" width="3" height="49" fill="#00ff00"/>
<rect x="612" y="636" width="3" height="43" fill="#00ff00"/>
<rect x="620" y="648" width="3" height="31" fill="#00ff00"/>
<rect x="628" y="657" width="3" height="22" fill="#00ff00"/>
<rect x="636" y="663" width="3" height="16" fill="#00ff00"/>
<rect x="644" y="668" width="3" height="11" fill="#00ff00"/>
<rect x="652" y="672" width="3" height="7" fill="#00ff00"/>
<rect x="660" y="677" width="3" height="2" fill="#00ff00"/>
<rect x="668" y="678" width="3" height="1" fill="#00ff00"/>
<rect x="676" y="676" width="3" height="3" fill="#00ff00"/>
<rect x="684" y="678" width="3" height="1" fill="#00ff00"/>
<rect x="708" y="677" width="3" height="2" fill="#00ff00"/>
<rect x="716" y="675" width="3" height="4" fill="#00ff00"/>
<rect x="724" y="672" width="3" height="7" fill="#00ff00"/>
<rect x="732" y="673" width="3" height="6" fill="#00ff00"/>
<rect x="740" y="674" width="3" height="5" fill="#00ff00"/>
<rect x="748" y="669" width="3" height="10" fill="#00ff00"/>
<rect x="756" y="674" width="3" height="5" fill="#00ff00"/>
<rect x="764" y="677" width="3" height="2" fill="#00ff00"/>
<rect x="772" y="679" width="3" height="8" fill="#00ff00"/>
<rect x="780" y="679" width="3" height="10" fill="#00ff00"/>
<rect x="788" y="679" width="3" height="5" fill="#00ff00"/>
<rect x="796" y="679" width="3" height="2" fill="#00ff00"/>
<rect x="804" y="677" width="3" height="2" fill="#00ff00"/>
<rect x="812" y="676" width="3" height="3" fill="#00ff00"/>
<rect x="820" y="678" width="3" height="1" fill="#00ff00"/>
<rect x="836" y="679" width="3" height="3" fill="#00ff00"/>
<rect x="844" y="679" width="3" height="7" fill="#00ff00"/>
<rect x="852" y="679" width="3" height="11" fill="#00ff00"/>
<rect x="860" y="679" width="3" height="15" fill="#00ff00"/>
<rect x="868" y="679" width="3" height="18" fill="#00ff00"/>
<rect x="876" y="679" width="3" height="21" fill="#00ff00"/>
<rect x="884" y="679" width="3" height="20" fill="#00ff00"/>
<rect x="892" y="679" width="3" height="10" fill="#00ff00"/>
<rect x="900" y="679" width="3" height="8" fill="#00ff00"/>
<rect x="908" y="679" width="3" height="3" fill="#00ff00"/>
<rect x="916" y="679" width="3" height="1" fill="#00ff00"/>
<rect x="924" y="676" width="3" height="3" fill="#00ff00"/>
<rect x="932" y="674" width="3" height="5" fill="#00ff00"/>
<rect x="940" y="675" width="3" height="4" fill="#00ff00"/>
<rect x="948" y="676" width="3" height="3" fill="#00ff00"/>
<rect x="956" y="677" width="3" height="2" fill="#00ff00"/>
<rect x="964" y="679" width="3" height="6" fill="#00ff00"/>
<rect x="972" y="679" width="3" height="13" fill="#00ff00"/>
<rect x="980" y="679" width="3" height="17" fill="#00ff00"/>
<rect x="988" y="679" width="3" height="22" fill="#00ff00"/>
<rect x="996" y="679" width="3" height="25" fill="#00ff00"/>
<rect x="1004" y="679" width="3" height="33" fill="#00ff00"/>
<rect x="1012" y="679" width="3" height="39" fill="#00ff00"/>
<rect x="1020" y="679" width="3" height="39" fill="#00ff00"/>
<rect x="1028" y="679" width="3" height="39" fill="#00ff00"/>
<rect x="1036" y="679" width="3" height="41" fill="#00ff00"/>
<rect x="1044" y="679" width="3" height="41" fill="#00ff00"/>
<rect x="1052" y="679" width="3" height="40" fill="#00ff00"/>
<rect x="1060" y="679" width="3" height="40" fill="#00ff00"/>
<rect x="1068" y="679" width="3" height="41" fill="#00ff00"/>
<rect x="1076" y="679" width="3" height="44" fill="#00ff00"/>
<rect x="1084" y="679" width="3" height="39" fill="#00ff00"/>
<rect x="1092" y="679" width="3" height="39" fill="#00ff00"/>
<rect x="1100" y="679" width="3" height="39" fill="#00ff00"/>
<rect x="1108" y="679" width="3" height="39" fill="#00ff00"/>
<rect x="1116" y="679" width="3" height="38" fill="#00ff00"/>
<rect x="1124" y="679" width="3" height="35" fill="#00ff00"/>
<rect x="1132" y="679" width="3" height="31" fill="#00ff00"/>
<rect x="1140" y="679" width="3" height="27" fill="#00ff00"/>
<rect x="1148" y="679" width="3" height="22" fill="#00ff00"/>
<rect x="1156" y="679" width="3" height="15" fill="#00ff00"/>
<rect x="1164" y="679" width="3" height="10" fill="#00ff00"/>
<rect x="1172" y="679" width="3" height="6" fill="#00ff00"/>
<rect x="1180" y="679" width="3" height="6" fill="#00ff00"/>
<rect x="1188" y="679" width="3" height="5" fill="#00ff00"/>
<rect x="1196" y="679" width="3" height="5" fill="#00ff00"/>
<rect x="1204" y="679" width="3" height="4" fill="#00ff00"/>
<rect x="1212" y="679" width="3" height="3" fill="#00ff00"/>
<rect x="1220" y="679" width="3" height="3" fill="#00ff00"/>
<rect x="1228" y="679" width="3" height="3" fill="#00ff00"/>
<rect x="1236" y="677" width="3" height="2" fill="#00ff00"/>
<rect x="1244" y="673" width="3" height="6" fill="#00ff00"/>
<rect x="1252" y="670" width="3" height="9" fill="#00ff00"/>
<rect x="1260" y="664" width="3" height="15" fill="#00ff00"/>
<rect x="1268" y="660" width="3" height="19" fill="#00ff00"/>
<rect x="1276" y="657" width="3" height="22" fill="#00ff00"/>
<rect x="1284" y="653" width="3" height="26" fill="#00ff00"/>
<polyline points="5.5,646.0 13.5,640.4 21.5,636.0 29.5,632.0 37.5,628.0 45.5,626.0 53.5,623.0 61.5,621.0 69.5,619.4 77.5,618.4 85.5,618.4 93.5,619.4 101.5,620.6 109.5,622.6 117.5,624.4 125.5,626.4 133.5,629.4 141.5,632.4 149.5,635.4 157.5,639.4 165.5,642.0 173.5,646.0 181.5,651.0 189.5,657.0 197.5,663.4 205.5,669.0 213.5,673.9 221.5,679.9 229.5,685.9 237.5,689.9 245.5,693.9 253.5,696.5 261.5,697.3 269.5,697.3 277.5,697.3 285.5,696.5 293.5,695.5 301.5,693.9 309.5,692.7 317.5,690.9 325.5,689.3 333.5,687.9 341.5,686.5 349.5,685.3 357.5,682.9 365.5,678.9 373.5,674.3 381.5,670.0 389.5,666.0 397.5,661.6 405.5,656.0 413.5,650.0 421.5,646.0 429.5,643.4 437.5,640.6 445.5,639.0 453.5,636.6 461.5,634.0 469.5,629.4 477.5,626.4 485.5,623.6 493.5,619.6 501.5,616.6 509.5,613.4 517.5,610.4 525.5,608.0 533.5,606.4 541.5,604.6 549.5,603.6 557.5,603.6 565.5,603.6 573.5,604.4 581.5,605.6 589.5,606.4 597.5,608.0 605.5,611.0 613.5,615.0 621.5,619.6 629.5,627.0 637.5,633.0 645.5,639.0 653.5,645.0 661.5,652.0 669.5,658.6 677.5,664.0 685.5,669.0 693.5,671.9 701.5,673.9 709.5,675.9 717.5,676.9 725.5,676.9 733.5,676.3 741.5,676.3 749.5,675.5 757.5,674.5 765.5,674.5 773.5,675.3 781.5,676.1 789.5,677.3 797.5,678.1 805.5,679.1 813.5,679.3 821.5,680.1 829.5,680.3 837.5,680.9 845.5,680.9 853.5,681.3 861.5,682.5 869.5,684.5 877.5,686.3 885.5,687.9 893.5,689.9 901.5,691.1 909.5,691.1 917.5,690.5 925.5,689.3 933.5,687.3 941.5,684.9 949.5,682.5 957.5,679.9 965.5,679.5 973.5,679.5 981.5,680.9 989.5,683.5 997.5,686.3 1005.5,690.5 1013.5,695.3 1021.5,699.5 1029.5,703.9 1037.5,707.9 1045.5,710.9 1053.5,713.3 1061.5,715.3 1069.5,717.3 1077.5,718.3 1085.5,718.3 1093.5,718.3 1101.5,718.3 1109.5,718.3 1117.5,718.3 1125.5,718.3 1133.5,716.9 1141.5,714.9 1149.5,713.3 1157.5,710.5 1165.5,707.3 1173.5,702.9 1181.5,699.3 1189.5,694.9 1197.5,691.9 1205.5,688.9 1213.5,686.3 1221.5,684.5 1229.5,683.3 1237.5,682.3 1245.5,680.9 1253.5,678.9 1261.5,676.9 1269.5,674.9 1277.5,672.5 1285.5,669.6" fill="none" stroke="#ff0000" stroke-width="2.2" stroke-linejoin="round" stroke-linecap="round" shape-rendering="geometricPrecision"/>
<polyline points="5.5,646.0 13.5,640.4 21.5,636.0 29.5,632.0 37.5,628.0 45.5,626.0 53.5,623.0 61.5,621.0 69.5,619.4 77.5,618.4 85.5,618.4 93.5,619.4 101.5,620.6 109.5,622.6 117.5,624.4 125.5,626.4 133.5,629.4 141.5,632.4 149.5,635.4 157.5,639.4 165.5,642.0 173.5,646.0 181.5,651.0 189.5,657.0 197.5,663.4 205.5,669.0 213.5,673.9 221.5,679.9 229.5,685.9 237.5,689.9 245.5,693.9 253.5,696.5 261.5,697.3 269.5,697.3 277.5,697.3 285.5,696.5 293.5,695.5 301.5,693.9 309.5,692.7 317.5,690.9 325.5,689.3 333.5,687.9 341.5,686.5 349.5,685.3 357.5,682.9 365.5,678.9 373.5,674.3 381.5,670.0 389.5,666.0 397.5,661.6 405.5,656.0 413.5,650.0 421.5,646.0 429.5,643.4 437.5,640.6 445.5,639.0 453.5,636.6 461.5,634.0 469.5,629.4 477.5,626.4 485.5,623.6 493.5,619.6 501.5,616.6 509.5,613.4 517.5,610.4 525.5,608.0 533.5,606.4 541.5,604.6 549.5,603.6 557.5,603.6 565.5,603.6 573.5,604.4 581.5,605.6 589.5,606.4 597.5,608.0 605.5,611.0 613.5,615.0 621.5,619.6 629.5,627.0 637.5,633.0 645.5,639.0 653.5,645.0 661.5,652.0 669.5,658.6 677.5,664.0 685.5,669.0 693.5,671.9 701.5,673.9 709.5,675.9 717.5,676.9 725.5,676.9 733.5,676.3 741.5,676.3 749.5,675.5 757.5,674.5 765.5,674.5 773.5,675.3 781.5,676.1 789.5,677.3 797.5,678.1 805.5,679.1 813.5,679.3 821.5,680.1 829.5,680.3 837.5,680.9 845.5,680.9 853.5,681.3 861.5,682.5 869.5,684.5 877.5,686.3 885.5,687.9 893.5,689.9 901.5,691.1 909.5,691.1 917.5,690.5 925.5,689.3 933.5,687.3 941.5,684.9 949.5,682.5 957.5,679.9 965.5,679.5 973.5,679.5 981.5,680.9 989.5,683.5 997.5,686.3 1005.5,690.5 1013.5,695.3 1021.5,699.5 1029.5,703.9 1037.5,707.9 1045.5,710.9 1053.5,713.3 1061.5,715.3 1069.5,717.3 1077.5,718.3 1085.5,718.3 1093.5,718.3 1101.5,718.3 1109.5,718.3 1117.5,718.3 1125.5,718.3 1133.5,716.9 1141.5,714.9 1149.5,713.3 1157.5,710.5 1165.5,707.3 1173.5,702.9 1181.5,699.3 1189.5,694.9 1197.5,691.9 1205.5,688.9 1213.5,686.3 1221.5,684.5 1229.5,683.3 1237.5,682.3 1245.5,680.9 1253.5,678.9 1261.5,676.9 1269.5,674.9 1277.5,672.5 1285.5,669.6" fill="none" stroke="#ff0000" stroke-width="3" stroke-linejoin="round" stroke-linecap="round" shape-rendering="crispEdges"/>
<rect x="4" y="4" width="1625" height="1" fill="#000"/>
<rect x="4" y="588" width="1625" height="1" fill="#000"/>
<rect x="4" y="590" width="1625" height="1" fill="#000"/>
<rect x="4" y="729" width="1625" height="1" fill="#000"/>
<rect x="4" y="4" width="1" height="585" fill="#000"/>
<rect x="4" y="590" width="1" height="140" fill="#000"/>
<rect x="1628" y="4" width="1" height="585" fill="#000"/>
<rect x="1628" y="590" width="1" height="140" fill="#000"/>
<polygon points="1297,5 1306.5,5 1301.75,10" fill="#708090" shape-rendering="geometricPrecision"/>
<polygon points="8,11 15,11 11.5,15" fill="#000" shape-rendering="geometricPrecision"/>
<text transform="translate(20.2,16) scale(0.931,1)" fill="#000" stroke="#000" stroke-width="0.12" text-anchor="start" textLength="69.28" lengthAdjust="spacingAndGlyphs">CHINA300-,H4</text>
<text transform="translate(91,16) scale(0.931,1)" fill="#000" stroke="#000" stroke-width="0.12" text-anchor="start" textLength="129.75" lengthAdjust="spacingAndGlyphs">4092.4 4111.9 4083.7 4109.7</text>
<text transform="translate(9.4,603) scale(0.931,1)" fill="#000" stroke="#000" stroke-width="0.12" text-anchor="start" textLength="30.18" lengthAdjust="spacingAndGlyphs">MACD</text>
<text transform="translate(38.1,603) scale(0.931,1)" fill="#000" stroke="#000" stroke-width="0.12" text-anchor="start" textLength="39.31" lengthAdjust="spacingAndGlyphs">(12,26,9)</text>
<text transform="translate(78.3,603) scale(0.931,1)" fill="#000" stroke="#000" stroke-width="0.12" text-anchor="start" textLength="22.56" lengthAdjust="spacingAndGlyphs">20.97</text>
<text transform="translate(104,603) scale(0.931,1)" fill="#000" stroke="#000" stroke-width="0.12" text-anchor="start" textLength="18.80" lengthAdjust="spacingAndGlyphs">8.29</text>
<rect x="1629" y="24" width="2" height="1" fill="#000"/>
<text transform="translate(1634,28) scale(0.931,1)" fill="#000" stroke="#000" stroke-width="0.12" text-anchor="start" textLength="30.29" lengthAdjust="spacingAndGlyphs">4288.0</text>
<rect x="1629" y="57" width="2" height="1" fill="#000"/>
<text transform="translate(1634,61) scale(0.931,1)" fill="#000" stroke="#000" stroke-width="0.12" text-anchor="start" textLength="30.29" lengthAdjust="spacingAndGlyphs">4260.5</text>
<rect x="1629" y="90" width="2" height="1" fill="#000"/>
<text transform="translate(1634,94) scale(0.931,1)" fill="#000" stroke="#000" stroke-width="0.12" text-anchor="start" textLength="30.29" lengthAdjust="spacingAndGlyphs">4232.5</text>
<rect x="1629" y="123" width="2" height="1" fill="#000"/>
<text transform="translate(1634,127) scale(0.931,1)" fill="#000" stroke="#000" stroke-width="0.12" text-anchor="start" textLength="30.29" lengthAdjust="spacingAndGlyphs">4204.5</text>
<rect x="1629" y="156" width="2" height="1" fill="#000"/>
<text transform="translate(1634,160) scale(0.931,1)" fill="#000" stroke="#000" stroke-width="0.12" text-anchor="start" textLength="30.29" lengthAdjust="spacingAndGlyphs">4177.0</text>
<rect x="1629" y="189" width="2" height="1" fill="#000"/>
<text transform="translate(1634,193) scale(0.931,1)" fill="#000" stroke="#000" stroke-width="0.12" text-anchor="start" textLength="30.29" lengthAdjust="spacingAndGlyphs">4149.0</text>
<rect x="1629" y="222" width="2" height="1" fill="#000"/>
<text transform="translate(1634,226) scale(0.931,1)" fill="#000" stroke="#000" stroke-width="0.12" text-anchor="start" textLength="30.29" lengthAdjust="spacingAndGlyphs">4121.0</text>
<rect x="1629" y="255" width="2" height="1" fill="#000"/>
<text transform="translate(1634,259) scale(0.931,1)" fill="#000" stroke="#000" stroke-width="0.12" text-anchor="start" textLength="30.29" lengthAdjust="spacingAndGlyphs">4093.5</text>
<rect x="1629" y="288" width="2" height="1" fill="#000"/>
<text transform="translate(1634,292) scale(0.931,1)" fill="#000" stroke="#000" stroke-width="0.12" text-anchor="start" textLength="30.29" lengthAdjust="spacingAndGlyphs">4065.5</text>
<rect x="1629" y="321" width="2" height="1" fill="#000"/>
<text transform="translate(1634,325) scale(0.931,1)" fill="#000" stroke="#000" stroke-width="0.12" text-anchor="start" textLength="30.29" lengthAdjust="spacingAndGlyphs">4037.5</text>
<rect x="1629" y="354" width="2" height="1" fill="#000"/>
<text transform="translate(1634,358) scale(0.931,1)" fill="#000" stroke="#000" stroke-width="0.12" text-anchor="start" textLength="30.29" lengthAdjust="spacingAndGlyphs">4010.0</text>
<rect x="1629" y="387" width="2" height="1" fill="#000"/>
<text transform="translate(1634,391) scale(0.931,1)" fill="#000" stroke="#000" stroke-width="0.12" text-anchor="start" textLength="30.29" lengthAdjust="spacingAndGlyphs">3982.0</text>
<rect x="1629" y="420" width="2" height="1" fill="#000"/>
<text transform="translate(1634,424) scale(0.931,1)" fill="#000" stroke="#000" stroke-width="0.12" text-anchor="start" textLength="30.29" lengthAdjust="spacingAndGlyphs">3954.0</text>
<rect x="1629" y="453" width="2" height="1" fill="#000"/>
<text transform="translate(1634,457) scale(0.931,1)" fill="#000" stroke="#000" stroke-width="0.12" text-anchor="start" textLength="30.29" lengthAdjust="spacingAndGlyphs">3926.5</text>
<rect x="1629" y="486" width="2" height="1" fill="#000"/>
<text transform="translate(1634,490) scale(0.931,1)" fill="#000" stroke="#000" stroke-width="0.12" text-anchor="start" textLength="30.29" lengthAdjust="spacingAndGlyphs">3898.5</text>
<rect x="1629" y="519" width="2" height="1" fill="#000"/>
<text transform="translate(1634,523) scale(0.931,1)" fill="#000" stroke="#000" stroke-width="0.12" text-anchor="start" textLength="30.29" lengthAdjust="spacingAndGlyphs">3870.5</text>
<rect x="1629" y="552" width="2" height="1" fill="#000"/>
<text transform="translate(1634,556) scale(0.931,1)" fill="#000" stroke="#000" stroke-width="0.12" text-anchor="start" textLength="30.29" lengthAdjust="spacingAndGlyphs">3843.0</text>
<rect x="1629" y="585" width="2" height="1" fill="#000"/>
<text transform="translate(1634,589) scale(0.931,1)" fill="#000" stroke="#000" stroke-width="0.12" text-anchor="start" textLength="30.29" lengthAdjust="spacingAndGlyphs">3815.0</text>
<text transform="translate(1632,601) scale(0.931,1)" fill="#000" stroke="#000" stroke-width="0.12" text-anchor="start" textLength="25.03" lengthAdjust="spacingAndGlyphs">69.44</text>
<text transform="translate(1632.3,683) scale(0.931,1)" fill="#000" stroke="#000" stroke-width="0.12" text-anchor="start" textLength="19.55" lengthAdjust="spacingAndGlyphs">0.00</text>
<text transform="translate(1632,726) scale(0.931,1)" fill="#000" stroke="#000" stroke-width="0.12" text-anchor="start" textLength="28.14" lengthAdjust="spacingAndGlyphs">-39.33</text>
<rect x="1629" y="679" width="2" height="1" fill="#000"/>
<rect x="1629" y="592" width="1" height="1" fill="#000"/>
<rect x="1629" y="729" width="2" height="1" fill="#000"/>
<rect x="1630" y="231" width="36" height="11" fill="#000"/>
<text transform="translate(1634,240) scale(0.931,1)" fill="#fff" stroke="#fff" stroke-width="0.12" text-anchor="start" textLength="30.29" lengthAdjust="spacingAndGlyphs">4109.7</text>
<rect x="1630" y="307" width="36" height="11" fill="#000"/>
<text transform="translate(1634,316) scale(0.931,1)" fill="#fff" stroke="#fff" stroke-width="0.12" text-anchor="start" textLength="30.29" lengthAdjust="spacingAndGlyphs">4045.0</text>
<rect x="1630" y="437" width="36" height="11" fill="#000"/>
<text transform="translate(1634,446) scale(0.931,1)" fill="#fff" stroke="#fff" stroke-width="0.12" text-anchor="start" textLength="30.29" lengthAdjust="spacingAndGlyphs">3935.0</text>
<rect x="5" y="730" width="1" height="3" fill="#000"/>
<text transform="translate(4,742) scale(0.931,1)" fill="#000" stroke="#000" stroke-width="0.12" text-anchor="start">5 Dec 2022</text>
<rect x="69" y="730" width="1" height="3" fill="#000"/>
<text transform="translate(68,742) scale(0.931,1)" fill="#000" stroke="#000" stroke-width="0.12" text-anchor="start">9 Dec 05:00</text>
<rect x="133" y="730" width="1" height="3" fill="#000"/>
<text transform="translate(132,742) scale(0.931,1)" fill="#000" stroke="#000" stroke-width="0.12" text-anchor="start">15 Dec 05:00</text>
<rect x="197" y="730" width="1" height="3" fill="#000"/>
<text transform="translate(196,742) scale(0.931,1)" fill="#000" stroke="#000" stroke-width="0.12" text-anchor="start">21 Dec 05:00</text>
<rect x="261" y="730" width="1" height="3" fill="#000"/>
<text transform="translate(260,742) scale(0.931,1)" fill="#000" stroke="#000" stroke-width="0.12" text-anchor="start">27 Dec 05:00</text>
<rect x="325" y="730" width="1" height="3" fill="#000"/>
<text transform="translate(324,742) scale(0.931,1)" fill="#000" stroke="#000" stroke-width="0.12" text-anchor="start">3 Jan 05:00</text>
<rect x="389" y="730" width="1" height="3" fill="#000"/>
<text transform="translate(388,742) scale(0.931,1)" fill="#000" stroke="#000" stroke-width="0.12" text-anchor="start">9 Jan 05:00</text>
<rect x="453" y="730" width="1" height="3" fill="#000"/>
<text transform="translate(452,742) scale(0.931,1)" fill="#000" stroke="#000" stroke-width="0.12" text-anchor="start">13 Jan 05:00</text>
<rect x="517" y="730" width="1" height="3" fill="#000"/>
<text transform="translate(516,742) scale(0.931,1)" fill="#000" stroke="#000" stroke-width="0.12" text-anchor="start">19 Jan 05:00</text>
<rect x="581" y="730" width="1" height="3" fill="#000"/>
<text transform="translate(580,742) scale(0.931,1)" fill="#000" stroke="#000" stroke-width="0.12" text-anchor="start">1 Feb 05:00</text>
<rect x="645" y="730" width="1" height="3" fill="#000"/>
<text transform="translate(644,742) scale(0.931,1)" fill="#000" stroke="#000" stroke-width="0.12" text-anchor="start">7 Feb 05:00</text>
<rect x="709" y="730" width="1" height="3" fill="#000"/>
<text transform="translate(708,742) scale(0.931,1)" fill="#000" stroke="#000" stroke-width="0.12" text-anchor="start">13 Feb 05:00</text>
<rect x="773" y="730" width="1" height="3" fill="#000"/>
<text transform="translate(772,742) scale(0.931,1)" fill="#000" stroke="#000" stroke-width="0.12" text-anchor="start">17 Feb 05:00</text>
<rect x="837" y="730" width="1" height="3" fill="#000"/>
<text transform="translate(836,742) scale(0.931,1)" fill="#000" stroke="#000" stroke-width="0.12" text-anchor="start">23 Feb 05:00</text>
<rect x="901" y="730" width="1" height="3" fill="#000"/>
<text transform="translate(900,742) scale(0.931,1)" fill="#000" stroke="#000" stroke-width="0.12" text-anchor="start">1 Mar 05:00</text>
<rect x="965" y="730" width="1" height="3" fill="#000"/>
<text transform="translate(964,742) scale(0.931,1)" fill="#000" stroke="#000" stroke-width="0.12" text-anchor="start">7 Mar 05:00</text>
<rect x="1029" y="730" width="1" height="3" fill="#000"/>
<text transform="translate(1028,742) scale(0.931,1)" fill="#000" stroke="#000" stroke-width="0.12" text-anchor="start">13 Mar 05:00</text>
<rect x="1093" y="730" width="1" height="3" fill="#000"/>
<text transform="translate(1092,742) scale(0.931,1)" fill="#000" stroke="#000" stroke-width="0.12" text-anchor="start">17 Mar 05:00</text>
<rect x="1157" y="730" width="1" height="3" fill="#000"/>
<text transform="translate(1156,742) scale(0.931,1)" fill="#000" stroke="#000" stroke-width="0.12" text-anchor="start">23 Mar 05:00</text>
<rect x="1221" y="730" width="1" height="3" fill="#000"/>
<text transform="translate(1220,742) scale(0.931,1)" fill="#000" stroke="#000" stroke-width="0.12" text-anchor="start">29 Mar 05:00</text>
<rect x="1285" y="730" width="1" height="3" fill="#000"/>
<text transform="translate(1284,742) scale(0.931,1)" fill="#000" stroke="#000" stroke-width="0.12" text-anchor="start">4 Apr 05:00</text>
</svg>
</body></html>
